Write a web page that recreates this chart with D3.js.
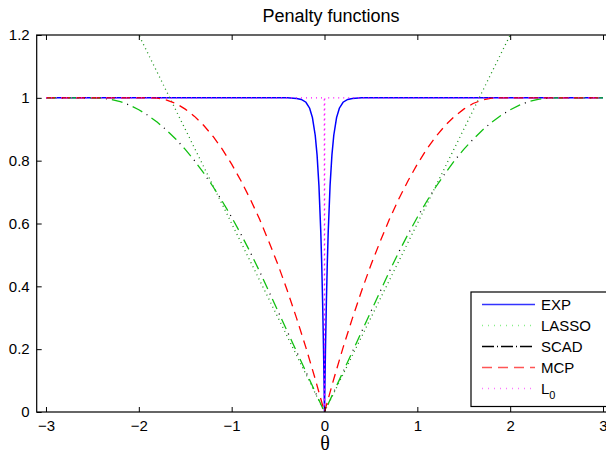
<!DOCTYPE html>
<html>
<head>
<meta charset="utf-8">
<script src="https://cdn.jsdelivr.net/npm/d3@7"></script>
<style>
  body { margin: 0; background: #fff; }
  svg { display: block; font-family: "Liberation Sans", Arial, sans-serif; }
</style>
</head>
<body>
<div id="chart"></div>
<script>
var canvasWidth = 606;
var canvasHeight = 456;

/* values */
var thetaGrid = [-3.0,-2.9,-2.8,-2.7,-2.6,-2.5,-2.4,-2.3,-2.2,-2.1,-2.0,-1.9,-1.8,-1.7,-1.6,-1.5,-1.4,-1.3,-1.2,-1.1,-1.0,-0.9,-0.8,-0.7,-0.6,-0.5,-0.4,-0.3,-0.2,-0.1,0,
  0.1,0.2,0.3,0.4,0.5,0.6,0.7,0.8,0.9,1.0,1.1,1.2,1.3,1.4,1.5,1.6,1.7,1.8,1.9,2.0,2.1,2.2,2.3,2.4,2.5,2.6,2.7,2.8,2.9,3.0];

var scadValues = [1,1,1,1,1,1,0.999,0.995,0.988,0.977,0.962,0.944,0.922,0.897,0.868,0.836,0.800,0.760,0.717,0.670,0.620,0.566,0.509,0.448,0.384,0.320,0.256,0.192,0.128,0.064,0,
  0.064,0.128,0.192,0.256,0.320,0.384,0.448,0.509,0.566,0.620,0.670,0.717,0.760,0.800,0.836,0.868,0.897,0.922,0.944,0.962,0.977,0.988,0.995,0.999,1,1,1,1,1,1];

var mcpValues = [1,1,1,1,1,1,1,1,1,1,1,1,0.999,0.993,0.982,0.964,0.941,0.912,0.877,0.836,0.789,0.736,0.678,0.614,0.543,0.468,0.386,0.298,0.205,0.105,0,
  0.105,0.205,0.298,0.386,0.468,0.543,0.614,0.678,0.736,0.789,0.836,0.877,0.912,0.941,0.964,0.982,0.993,0.999,1,1,1,1,1,1,1,1,1,1,1,1];

var expTheta = [-3,-0.4,-0.3,-0.25,-0.2,-0.16,-0.13,-0.1,-0.08,-0.06,-0.04,-0.03,-0.02,-0.01,0,0.01,0.02,0.03,0.04,0.06,0.08,0.1,0.13,0.16,0.2,0.25,0.3,0.4,3];
var expValues = [1,1,0.998,0.995,0.986,0.967,0.937,0.881,0.818,0.721,0.573,0.472,0.347,0.192,0,0.192,0.347,0.472,0.573,0.721,0.818,0.881,0.937,0.967,0.986,0.995,0.998,1,1];

var lassoTheta = [-3, 0, 3];
var lassoValues = [1.8, 0, 1.8];

var l0Theta = [-3, -0.003, 0, 0.003, 3];
var l0Values = [1, 1, 0, 1, 1];

var xTicks = [-3, -2, -1, 0, 1, 2, 3];
var yTicks = [0, 0.2, 0.4, 0.6, 0.8, 1, 1.2];
var seriesNames = ["EXP", "LASSO", "SCAD", "MCP", "L0"];

var svg = d3.select("#chart")
    .append("svg")
    .attr("width", canvasWidth)
    .attr("height", canvasHeight);

var xScale = d3.scaleLinear().domain([-3.1, 3.1]).range([36.7, 612.3]);
var yScale = d3.scaleLinear().domain([0, 1.2]).range([412, 35]);

/* clip for the plot box */
svg.append("clipPath").attr("id", "plotclip")
    .append("rect")
    .attr("x", xScale(-3.1)).attr("y", yScale(1.2))
    .attr("width", xScale(3.1) - xScale(-3.1))
    .attr("height", yScale(0) - yScale(1.2));

/* title */
svg.append("text")
    .attr("x", 331).attr("y", 22)
    .attr("text-anchor", "middle")
    .style("font-size", "18px")
    .text("Penalty functions");

/* curves */
var plot = svg.append("g").attr("clip-path", "url(#plotclip)");

function toPoints(xs, ys) {
    return xs.map(function(d, i) { return [d, ys[i]]; });
}
var line = d3.line()
    .x(function(d) { return xScale(d[0]); })
    .y(function(d) { return yScale(d[1]); });

var styles = {
    EXP:   [{stroke: "#0000ff", dash: null, width: 1.5}],
    LASSO: [{stroke: "#1d941d", dash: "1,3.5", width: 1.3}],
    SCAD:  [{stroke: "#11c011", dash: "11,11", width: 1.3}, {stroke: "#000", dash: "0,16,1,5", width: 1.3}],
    MCP:   [{stroke: "#ff0000", dash: "9,6", width: 1.3}],
    L0:    [{stroke: "#ff00ff", dash: "1,4", width: 1.3}]
};
var seriesData = {
    EXP: toPoints(expTheta, expValues),
    LASSO: toPoints(lassoTheta, lassoValues),
    SCAD: toPoints(thetaGrid, scadValues),
    MCP: toPoints(thetaGrid, mcpValues),
    L0: toPoints(l0Theta, l0Values)
};

seriesNames.forEach(function(name) {
    styles[name].forEach(function(s) {
        plot.append("path")
            .attr("fill", "none")
            .attr("stroke", s.stroke)
            .attr("stroke-width", s.width)
            .attr("stroke-dasharray", s.dash)
            .attr("d", line(seriesData[name]));
    });
});

/* axes, MATLAB style: box with inward ticks */
var plainFormat = function(d) { return d < 0 ? "\u2212" + Math.abs(d) : String(d); };
var xAxis = svg.append("g")
    .attr("transform", "translate(0," + yScale(0) + ")")
    .call(d3.axisBottom(xScale).tickValues(xTicks).tickSize(-5).tickSizeOuter(0).tickPadding(8)
        .tickFormat(plainFormat));
var topAxis = svg.append("g")
    .attr("transform", "translate(0," + yScale(1.2) + ")")
    .call(d3.axisTop(xScale).tickValues(xTicks).tickSize(-5).tickSizeOuter(0).tickFormat(""));
var yAxis = svg.append("g")
    .attr("transform", "translate(" + xScale(-3.1) + ",0)")
    .call(d3.axisLeft(yScale).tickValues(yTicks).tickSize(-5).tickSizeOuter(0).tickPadding(7)
        .tickFormat(plainFormat));

[xAxis, topAxis, yAxis].forEach(function(a) {
    a.select(".domain").remove();
    a.selectAll("text").style("font-size", "15px").attr("fill", "#000")
        .style("font-family", "'Liberation Sans', Arial, sans-serif");
    a.selectAll("line").attr("stroke", "#000");
});

svg.append("rect")
    .attr("x", xScale(-3.1)).attr("y", yScale(1.2))
    .attr("width", xScale(3.1) - xScale(-3.1))
    .attr("height", yScale(0) - yScale(1.2))
    .attr("fill", "none")
    .attr("stroke", "#000")
    .attr("stroke-width", 1.2);

/* x label */
svg.append("text")
    .attr("x", 325).attr("y", 450)
    .attr("text-anchor", "middle")
    .style("font-family", "'Liberation Serif', 'DejaVu Serif', serif")
    .style("font-size", "20px")
    .text("θ");

/* legend */
var legend = svg.append("g").attr("transform", "translate(471,292)");
legend.append("rect")
    .attr("x", 0).attr("y", 0)
    .attr("width", 150).attr("height", 114.5)
    .attr("fill", "#fff")
    .attr("stroke", "#000")
    .attr("stroke-width", 1.2);

var legendStyles = {
    EXP: {stroke: "#3333ff", dash: null},
    LASSO: {stroke: "#88ee88", dash: "1,5"},
    SCAD: {stroke: "#000", dash: "12,3,1,3"},
    MCP: {stroke: "#ff5555", dash: "10,6"},
    L0: {stroke: "#ff77ff", dash: "1,5"}
};

seriesNames.forEach(function(name, i) {
    var yy = 12.5 + i * 21;
    legend.append("line")
        .attr("x1", 11).attr("x2", 64)
        .attr("y1", yy).attr("y2", yy)
        .attr("stroke", legendStyles[name].stroke)
        .attr("stroke-width", 1.3)
        .attr("stroke-dasharray", legendStyles[name].dash);
    var t = legend.append("text")
        .attr("x", 70).attr("y", yy + 5.5)
        .style("font-size", "15px");
    if (name === "L0") {
        t.append("tspan").text("L");
        t.append("tspan").attr("dy", 5).style("font-size", "11px").text("0");
    } else {
        t.text(name);
    }
});
</script>
</body>
</html>
